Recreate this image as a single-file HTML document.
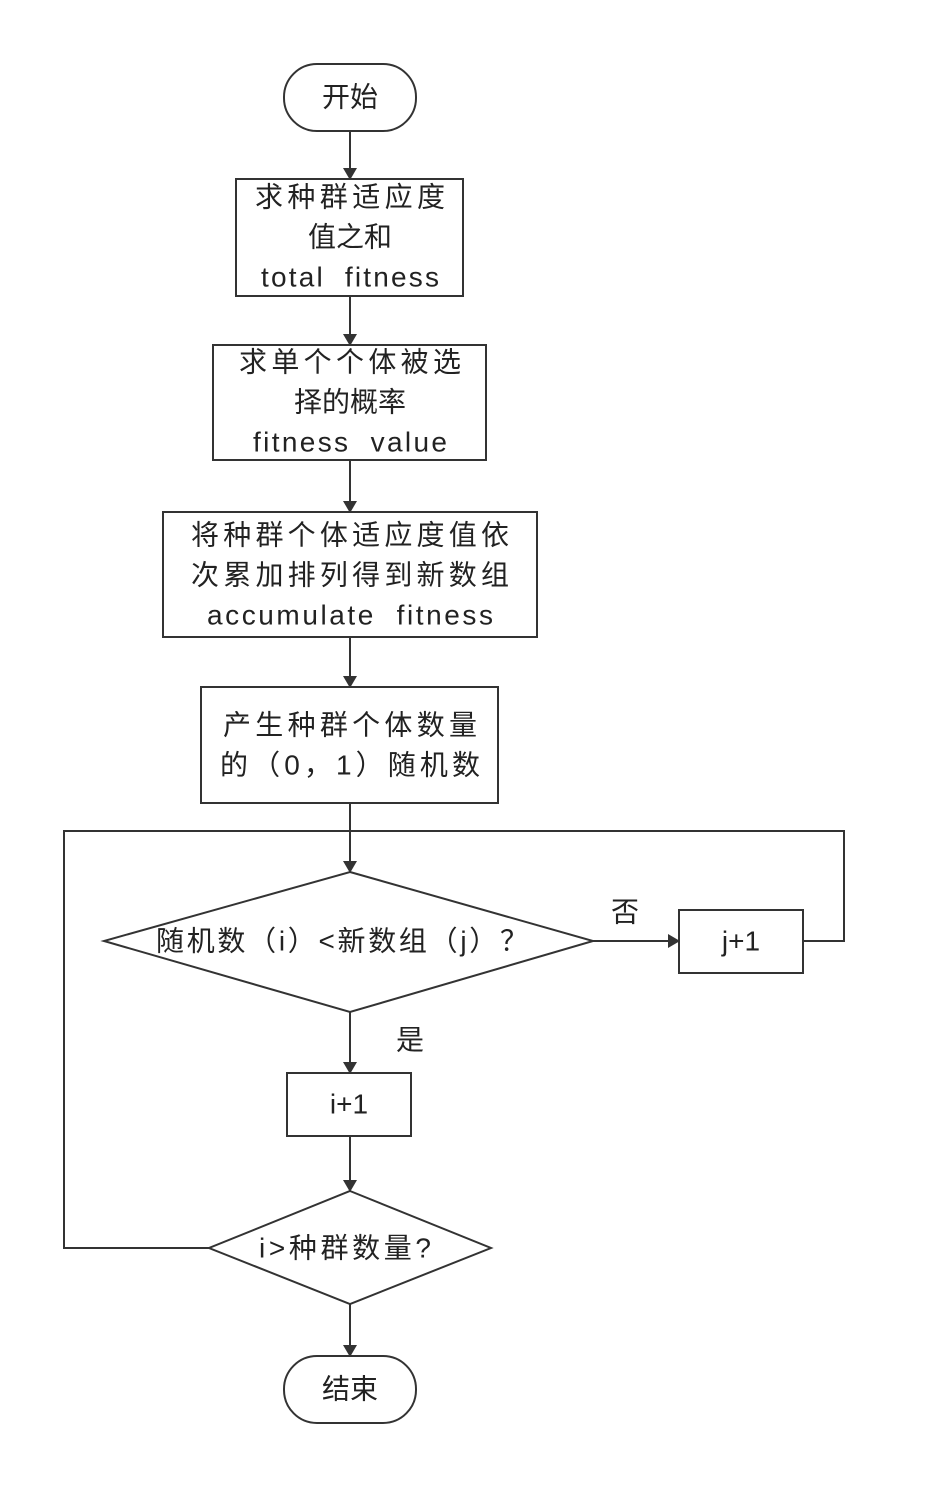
<!DOCTYPE html>
<html><head><meta charset="utf-8"><style>
html,body{margin:0;padding:0;background:#fff}
svg{display:block}
text{font-family:"Liberation Sans","Noto Sans CJK SC",sans-serif;font-size:28px;fill:#222;text-anchor:middle;dominant-baseline:central}
</style></head><body>
<svg width="926" height="1506" viewBox="0 0 926 1506" xmlns="http://www.w3.org/2000/svg">
<defs><marker id="a" markerWidth="12" markerHeight="16" refX="11" refY="7" orient="auto" markerUnits="userSpaceOnUse"><path d="M0,0 L12,7 L0,14 Z" fill="#333"/></marker></defs>
<g fill="none" stroke="#333" stroke-width="2">
<rect x="284" y="64" width="132" height="67" rx="33"/>
<rect x="236" y="179" width="227" height="117"/>
<rect x="213" y="345" width="273" height="115"/>
<rect x="163" y="512" width="374" height="125"/>
<rect x="201" y="687" width="297" height="116"/>
<polygon points="350,872 593,941 350,1012 104,941"/>
<rect x="679" y="910" width="124" height="63"/>
<rect x="287" y="1073" width="124" height="63"/>
<polygon points="350,1191 491,1248 350,1304 209,1248"/>
<rect x="284" y="1356" width="132" height="67" rx="33"/>
<line x1="350" y1="131" x2="350" y2="179" marker-end="url(#a)"/>
<line x1="350" y1="296" x2="350" y2="345" marker-end="url(#a)"/>
<line x1="350" y1="460" x2="350" y2="512" marker-end="url(#a)"/>
<line x1="350" y1="637" x2="350" y2="687" marker-end="url(#a)"/>
<line x1="350" y1="803" x2="350" y2="872" marker-end="url(#a)"/>
<polyline points="803,941 844,941 844,831 64,831 64,1248 209,1248"/>
<line x1="593" y1="941" x2="679" y2="941" marker-end="url(#a)"/>
<line x1="350" y1="1012" x2="350" y2="1073" marker-end="url(#a)"/>
<line x1="350" y1="1136" x2="350" y2="1191" marker-end="url(#a)"/>
<line x1="350" y1="1304" x2="350" y2="1356" marker-end="url(#a)"/>
</g>
<text x="350" y="97">开始</text>
<text x="350" y="197" textLength="190">求种群适应度</text>
<text x="350" y="237">值之和</text>
<text x="350" y="277" textLength="178" xml:space="preserve">total  fitness</text>
<text x="350" y="362" textLength="222">求单个个体被选</text>
<text x="350" y="402">择的概率</text>
<text x="350" y="442" textLength="194" xml:space="preserve">fitness  value</text>
<text x="350" y="535" textLength="318">将种群个体适应度值依</text>
<text x="350" y="575" textLength="318">次累加排列得到新数组</text>
<text x="350" y="615" textLength="286" xml:space="preserve">accumulate  fitness</text>
<text x="350" y="725" textLength="254">产生种群个体数量</text>
<text x="350" y="765" textLength="260">的（0，1）随机数</text>
<text x="342" y="941" textLength="372">随机数（i）&lt;新数组（j）？</text>
<text x="625" y="912">否</text>
<text x="741" y="941">j+1</text>
<text x="410" y="1040">是</text>
<text x="349" y="1104">i+1</text>
<text x="345" y="1248" textLength="172">i&gt;种群数量?</text>
<text x="350" y="1389">结束</text>
</svg>
</body></html>
